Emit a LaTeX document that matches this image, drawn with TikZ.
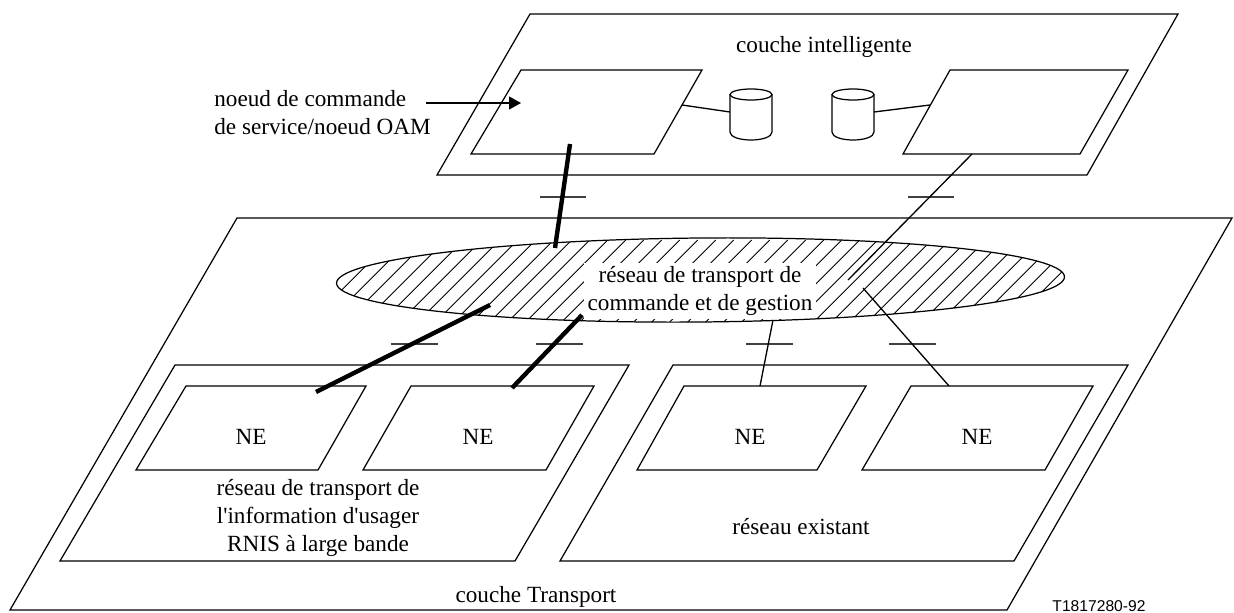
\documentclass[tikz,border=0pt]{standalone}
\usepackage{fontspec}
\setmainfont{Liberation Serif}
\newfontfamily\labelsans{Liberation Sans}
\usetikzlibrary{arrows.meta}

\tikzset{
    panel/.style = {line width=0.7pt, line join=miter},
    hatchline/.style = {line width=0.45pt},
    thinlink/.style = {line width=0.75pt},
    thicklink/.style = {line width=2.5pt},
    crossbar/.style = {line width=0.7pt, color=black!75},
    lbl/.style = {font=\fontsize{13.2}{15.9}\selectfont, align=center, inner sep=0pt}
}

\begin{document}
\begin{tikzpicture}[x=0.02cm, y=-0.02cm]
    \useasboundingbox (0,0) rectangle (1234,612);

    \coordinate (ctrlA) at (570,144);
    \coordinate (ctrlB) at (972,154);
    \coordinate (ctrlArrow) at (521,103);
    \coordinate (ctrlAdb) at (682,105);
    \coordinate (ctrlBdb) at (930,105);
    \coordinate (dbA) at (730,112);
    \coordinate (dbB) at (874,112);
    \coordinate (lblEnd) at (426,103);
    \coordinate (ovalA) at (555,248);
    \coordinate (ovalB) at (848,280);
    \coordinate (ovalC) at (490,305);
    \coordinate (ovalD) at (582,315);
    \coordinate (ovalE) at (773,320);
    \coordinate (ovalF) at (863,288);
    \coordinate (neA) at (316,392);
    \coordinate (neB) at (512,388);
    \coordinate (neC) at (760,386);
    \coordinate (neD) at (949,386);

    \draw [panel] (530,14) -- (1178,14) -- (1087,175) -- (437,175) -- cycle;
    \draw [panel] (521,70) -- (702,70) -- (654,154) -- (471,154) -- cycle;
    \draw [panel] (950,70) -- (1128,70) -- (1080,154) -- (903,154) -- cycle;
    \draw [panel] (237,218) -- (1232,218) -- (1007,610) -- (10,610) -- cycle;
    \draw [panel] (175,365) -- (629,365) -- (515,561) -- (60,561) -- cycle;
    \draw [panel] (673,365) -- (1128,365) -- (1014,561) -- (560,561) -- cycle;
    \draw [panel] (186,386) -- (366,386) -- (318,470) -- (136,470) -- cycle;
    \draw [panel] (411,386) -- (594,386) -- (546,470) -- (363,470) -- cycle;
    \draw [panel] (684,386) -- (866,386) -- (817,470) -- (637,470) -- cycle;
    \draw [panel] (911,386) -- (1093,386) -- (1045,470) -- (862,470) -- cycle;

    \draw [panel] (751,94.5) ellipse [x radius=21, y radius=5.5];
    \draw [panel] (730,94.5) -- (730,132) .. controls (730,137) and (740,140) .. (751,140)
        .. controls (762,140) and (772,137) .. (772,132) -- (772,94.5);
    \draw [panel] (853,94.5) ellipse [x radius=21, y radius=5.5];
    \draw [panel] (832,94.5) -- (832,132) .. controls (832,137) and (842,140) .. (853,140)
        .. controls (864,140) and (874,137) .. (874,132) -- (874,94.5);

    \begin{scope}
        \clip [rotate around={0.5:(700.5,280)}] (700.5,280) ellipse [x radius=364, y radius=42];
        \foreach \k in {0,...,40}
            \draw [hatchline] (291.7+18*\k,340) -- (391.7+18*\k,240);
    \end{scope}
    \node (oval) [lbl, fill=white, minimum width=232*0.02cm, minimum height=56*0.02cm] at (700,291)
        {r\'eseau de transport de\\commande et de gestion};
    \draw [panel, rotate around={0.5:(700.5,280)}] (700.5,280) ellipse [x radius=364, y radius=42];

    \draw [crossbar] (540,197) -- (586,197);
    \draw [crossbar] (908,197) -- (954,197);
    \draw [crossbar] (391,344) -- (438,344);
    \draw [crossbar] (536,344) -- (583,344);
    \draw [crossbar] (746,344) -- (793,344);
    \draw [crossbar] (889,344) -- (936,344);

    \draw [thinlink] (ctrlAdb) -- (dbA);
    \draw [thinlink] (dbB) -- (ctrlBdb);
    \draw [thinlink] (ctrlB) -- (ovalB);
    \draw [thinlink] (ovalE) -- (neC);
    \draw [thinlink] (ovalF) -- (neD);
    \draw [thicklink] (ctrlA) -- (ovalA);
    \draw [thicklink] (ovalC) -- (neA);
    \draw [thicklink] (ovalD) -- (neB);
    \draw [panel, -{Triangle[length=12*0.02cm, width=13*0.02cm]}] (lblEnd) -- (ctrlArrow);

    \node (layerTop) [lbl] at (824,47) {couche intelligente};
    \node (ctrlLabel) [lbl, align=left, anchor=west] at (214,113) {noeud de commande\\de service/noeud OAM};
    \node (neOne) [lbl] at (251,437) {NE};
    \node (neTwo) [lbl] at (478,437) {NE};
    \node (neThree) [lbl] at (750,437) {NE};
    \node (neFour) [lbl] at (977,437) {NE};
    \node (netUser) [lbl] at (318,518) {r\'eseau de transport de\\l\textquotesingle information d\textquotesingle usager\\RNIS \`a large bande};
    \node (netOld) [lbl] at (801,527) {r\'eseau existant};
    \node (layerBottom) [lbl] at (536,597) {couche Transport};
    \node (figRef) [inner sep=0pt, font=\labelsans\fontsize{8.9}{10}\selectfont] at (1099,606) {T1817280-92};
\end{tikzpicture}
\end{document}
